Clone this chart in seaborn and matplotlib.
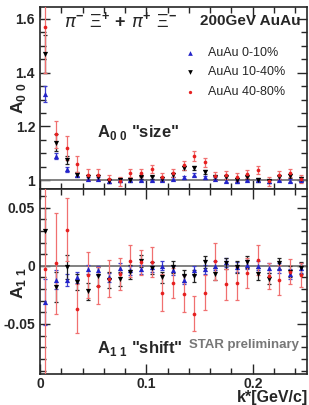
import numpy as np
import pandas as pd
import matplotlib
matplotlib.use("Agg")
import matplotlib.pyplot as plt
import seaborn as sns
from matplotlib.ticker import MultipleLocator

# k* bin centres [GeV/c]
kstar = [0.005, 0.015, 0.025, 0.035, 0.045, 0.055, 0.065, 0.075, 0.085, 0.095,
         0.105, 0.115, 0.125, 0.135, 0.145, 0.155, 0.165, 0.175, 0.185, 0.195,
         0.205, 0.215, 0.225, 0.235, 0.245]
cents = ["AuAu 0-10%", "AuAu 10-40%", "AuAu 40-80%"]

# A00 "size"
a00_c = [1.32, 1.09, 1.04, 1.02, 1.005, 1.005, 0.996, 1.0, 1.0, 1.0, 1.0, 1.0, 1.005,
         1.01, 1.02, 1.01, 1.005, 0.998, 0.995, 1.0, 1.0, 0.995, 1.0, 0.998, 1.0]
a00_c_err = [0.03, 0.01, 0.008, 0.006, 0.005, 0.005, 0.005, 0.005, 0.005, 0.005, 0.005, 0.005, 0.005,
             0.005, 0.005, 0.005, 0.005, 0.005, 0.005, 0.005, 0.005, 0.005, 0.005, 0.005, 0.005]
a00_m = [1.47, 1.14, 1.075, 1.02, 1.01, 1.01, 0.998, 1.0, 1.0, 1.01, 1.01, 1.005, 1.02,
         1.045, 1.045, 1.03, 1.01, 1.01, 1.0, 1.01, 1.0, 0.995, 1.01, 1.015, 1.005]
a00_m_err = [0.07, 0.03, 0.015, 0.01, 0.008, 0.008, 0.008, 0.007, 0.007, 0.007, 0.007, 0.007, 0.007,
             0.008, 0.008, 0.008, 0.007, 0.007, 0.007, 0.007, 0.007, 0.007, 0.007, 0.007, 0.007]
a00_p = [1.57, 1.17, 1.12, 1.06, 1.02, 1.02, 1.005, 0.995, 1.025, 1.025, 1.04, 1.01, 1.025,
         1.055, 1.09, 1.067, 1.015, 1.02, 1.01, 1.022, 1.037, 0.995, 1.02, 1.027, 1.005]
a00_p_err = [0.17, 0.05, 0.045, 0.03, 0.02, 0.02, 0.015, 0.015, 0.015, 0.015, 0.015, 0.015, 0.015,
             0.017, 0.017, 0.017, 0.015, 0.015, 0.015, 0.015, 0.015, 0.015, 0.015, 0.015, 0.015]

# A11 "shift"
a11_c = [-0.031, -0.012, -0.012, -0.010, -0.003, -0.004, -0.010, -0.002, -0.004, -0.003, -0.001, 0.0, -0.004,
         -0.012, -0.004, -0.003, 0.0, 0.003, -0.001, 0.001, 0.0, -0.002, -0.002, -0.007, -0.002]
a11_c_err = [0.02, 0.008, 0.005, 0.005, 0.004, 0.004, 0.004, 0.004, 0.004, 0.004, 0.004, 0.004, 0.004,
             0.004, 0.004, 0.004, 0.004, 0.004, 0.004, 0.004, 0.004, 0.004, 0.004, 0.004, 0.004]
a11_m = [0.03, -0.018, -0.001, -0.014, -0.022, -0.009, -0.012, -0.011, -0.005, 0.004, -0.002, -0.010, -0.001,
         -0.009, -0.009, 0.003, -0.007, 0.002, -0.001, 0.003, -0.007, -0.011, 0.002, -0.005, -0.002]
a11_m_err = [0.02, 0.013, 0.01, 0.007, 0.007, 0.008, 0.007, 0.006, 0.006, 0.005, 0.005, 0.005, 0.005,
             0.005, 0.005, 0.005, 0.005, 0.005, 0.005, 0.005, 0.005, 0.005, 0.005, 0.005, 0.005]
a11_p = [-0.003, 0.002, 0.031, -0.037, -0.008, -0.017, -0.011, -0.007, 0.004, 0.003, 0.003, -0.023, -0.015,
         -0.024, -0.041, -0.023, 0.004, -0.016, -0.015, -0.006, 0.005, -0.009, -0.012, -0.005, -0.008]
a11_p_err = [0.15, 0.043, 0.027, 0.021, 0.02, 0.016, 0.016, 0.014, 0.014, 0.011, 0.013, 0.016, 0.013,
             0.016, 0.015, 0.015, 0.016, 0.013, 0.014, 0.013, 0.013, 0.011, 0.013, 0.011, 0.01]

df = pd.DataFrame({
    "k": kstar * 3,
    "cent": np.repeat(cents, len(kstar)),
    "a00": a00_c + a00_m + a00_p,
    "a00_err": a00_c_err + a00_m_err + a00_p_err,
    "a11": a11_c + a11_m + a11_p,
    "a11_err": a11_c_err + a11_m_err + a11_p_err,
})

sns.set_style("ticks")
plt.rcParams["font.family"] = ["Liberation Sans", "DejaVu Sans"]
plt.rcParams["mathtext.fontset"] = "custom"
plt.rcParams["mathtext.rm"] = "Liberation Sans"
plt.rcParams["mathtext.bf"] = "Liberation Sans:bold"

palette = {cents[0]: "#2323c8", cents[1]: "#000000", cents[2]: "#e62020"}
ecolors = {cents[0]: "#3c3cd0", cents[1]: "#222222", cents[2]: "#f07070"}
markers = {cents[0]: "^", cents[1]: "v", cents[2]: "o"}
sizes = {cents[0]: 14, cents[1]: 14, cents[2]: 7}

fig = plt.figure(figsize=(3.09, 4.05), dpi=100)
ax1 = fig.add_axes([0.1294, 0.5333, 0.864, 0.4497])
ax2 = fig.add_axes([0.1294, 0.0765, 0.864, 0.4568])

for ax, col, ref in [(ax1, "a00", 1.0), (ax2, "a11", 0.0)]:
    ax.axhline(ref, color="#777777", lw=1.3, zorder=1)
    for i, c in enumerate(cents):
        sub = df[df.cent == c]
        ax.errorbar(sub.k, sub[col], yerr=sub[col + "_err"], fmt="none",
                    ecolor=ecolors[c], elinewidth=0.9, capsize=1.2, capthick=0.9, zorder=2 + i)
        sns.scatterplot(data=sub, x="k", y=col, color=palette[c], marker=markers[c],
                        s=sizes[c], linewidth=0, ax=ax, zorder=5 + i, label=c if ax is ax1 else None)

ax1.set_ylim(0.967, 1.645)
ax2.set_ylim(-0.093, 0.066)
for ax in (ax1, ax2):
    ax.set_xlim(0, 0.251)
    ax.xaxis.set_major_locator(MultipleLocator(0.1))
    ax.xaxis.set_minor_locator(MultipleLocator(0.02))
    ax.tick_params(which="both", direction="in", top=True, right=True, width=1)
    ax.tick_params(which="major", length=7, labelsize=10)
    ax.tick_params(which="minor", length=4)
    for s in ax.spines.values():
        s.set_linewidth(1.2)
    ax.set_xlabel("")

ax1.yaxis.set_minor_locator(MultipleLocator(0.05))
ax1.set_yticks([1.0, 1.2, 1.4, 1.6])
ax1.set_yticklabels(["1", "1.2", "1.4", "1.6"], fontweight="bold")
ax1.tick_params(axis="x", labelbottom=False)
ax1.set_ylabel(r"$\mathbf{A}_{\mathbf{0\ 0}}$", fontsize=12.5)
ax1.yaxis.set_label_coords(-0.045, 0.5)

ax2.yaxis.set_minor_locator(MultipleLocator(0.01))
ax2.set_yticks([-0.05, 0.0, 0.05])
ax2.set_yticklabels(["-0.05", "0", "0.05"], fontweight="bold")
ax2.set_xticks([0, 0.1, 0.2])
ax2.set_xticklabels(["0", "0.1", "0.2"], fontweight="bold")
ax2.tick_params(axis="x", pad=2)
ax2.set_ylabel(r"$\mathbf{A}_{\mathbf{1\ 1}}$", fontsize=12.5)
ax2.yaxis.set_label_coords(-0.045, 0.49)

ax1.legend(loc="upper left", bbox_to_anchor=(0.49, 0.815), frameon=False, fontsize=9,
           handletextpad=0.5, labelspacing=0.6, markerscale=0.9, borderpad=0)

ax1.text(0.09, 0.92, r"$\pi^{\mathbf{-}}\ \Xi^{\mathbf{+}}\ $" + r"$\mathbf{+}$" + r"$\ \pi^{\mathbf{+}}\ \Xi^{\mathbf{-}}$",
         transform=ax1.transAxes, fontsize=13, va="center", ha="left")
ax1.text(0.6, 0.92, "200GeV AuAu", transform=ax1.transAxes, fontsize=11,
         fontweight="bold", va="center", ha="left")
ax1.text(0.215, 0.31, r'$\mathbf{A}_{\mathbf{0\ 0}}$' + ' "size"', transform=ax1.transAxes,
         fontsize=12, fontweight="bold", va="center", ha="left")
ax2.text(0.215, 0.14, r'$\mathbf{A}_{\mathbf{1\ 1}}$' + ' "shift"', transform=ax2.transAxes,
         fontsize=12, fontweight="bold", va="center", ha="left")
ax2.text(0.56, 0.155, "STAR preliminary", transform=ax2.transAxes, fontsize=9.5,
         fontweight="bold", color="#777777", va="center", ha="left")
fig.text(0.998, 0.0, "k*[GeV/c]", fontsize=11.5, fontweight="bold", ha="right", va="bottom")

fig.savefig("out.png", dpi=100)
